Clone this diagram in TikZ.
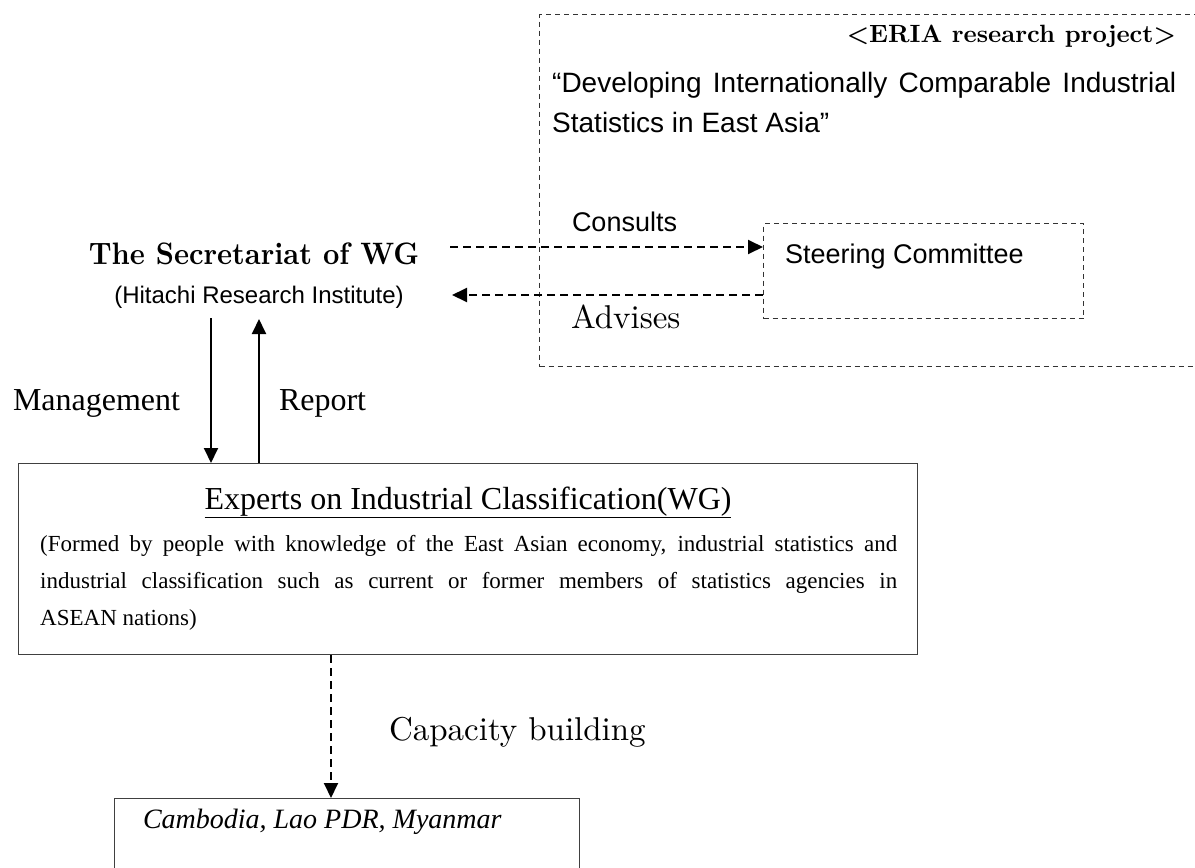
\documentclass[tikz,border=0pt]{standalone}
\usepackage{fontspec}
\newfontfamily\arialf{Liberation Sans}
\newfontfamily\timesf{Liberation Serif}
\newfontfamily\lmten{lmroman10-regular.otf}[BoldFont=lmroman10-bold.otf]
\usetikzlibrary{arrows.meta}
\newcommand\fsz[2]{\fontsize{#1}{#2}\selectfont}
\tikzset{
  txt/.style={inner sep=0pt, outer sep=0pt, anchor=base west},
  boxline/.style={draw=black!75, line width=1.4pt, inner sep=0pt, anchor=north west},
  dashbox/.style={draw=black!80, line width=1.3pt, dash pattern=on 5pt off 4pt, inner sep=0pt, anchor=north west},
  arr/.style={line width=1.9pt, -{Triangle[length=15pt,width=14pt]}},
  darr/.style={arr, dash pattern=on 8pt off 5pt},
}
\begin{document}
\begin{tikzpicture}[x=1pt,y=-1pt]
\useasboundingbox (0,0) rectangle (1195,868);
% ERIA frame (right edge beyond the page)
\node[dashbox, minimum width=680pt, minimum height=352pt] (eria) at (539,14) {};
\node[txt, anchor=base east, font=\lmten\fsz{25}{30}\bfseries] (eriat) at (1176,42) {<ERIA research project>};
\node[inner sep=0pt, anchor=north west, text width=624pt, align=justify,
      font=\arialf\fsz{28}{40}] (dev) at (552,72)
  {“Developing Internationally Comparable Industrial\linebreak Statistics in East Asia”};
% Steering committee
\node[dashbox, minimum width=320pt, minimum height=95pt] (sc) at (763,223) {};
\node[txt, font=\arialf\fsz{27}{30}] (sct) at (785,263) {Steering Committee};
% Secretariat
\node[txt, anchor=base, font=\lmten\fsz{31}{34}\bfseries] (sec) at (254,264) {\scalebox{0.92}[1]{The Secretariat of WG}};
\node[txt, anchor=base, font=\arialf\fsz{24}{28}] (hri) at (259,303) {(Hitachi Research Institute)};
% Consults / Advises
\coordinate (c1) at (450,247);
\coordinate (a1) at (452,295);
\draw[darr] (c1) -- (c1 -| sc.west);
\draw[darr] (a1 -| sc.west) -- (a1);
\node[txt, font=\arialf\fsz{27}{30}] (cons) at (572,231) {Consults};
\node[txt, font=\lmten\fsz{33}{36}] (adv) at (571,328) {Advises};
% Experts box
\node[boxline, minimum width=899pt, minimum height=191pt] (exp) at (18,463) {};
\node[txt, anchor=base, font=\timesf\fsz{32}{36}] (expt) at (468,509) {\underline{Experts on Industrial Classification(WG)}};
\node[inner sep=0pt, anchor=north west, text width=857pt, align=justify,
      font=\timesf\fsz{23}{37}] (body) at (40,535)
  {(Formed by people with knowledge of the East Asian economy, industrial statistics and\linebreak industrial classification such as current or former members of statistics agencies in\linebreak ASEAN nations)};
% Management / Report
\coordinate (m1) at (211,318);
\coordinate (r1) at (259,319);
\draw[arr] (m1) -- (m1 |- exp.north);
\draw[arr] (r1 |- exp.north) -- (r1);
\node[txt, font=\timesf\fsz{32}{36}] (mgmt) at (13,410) {Management};
\node[txt, font=\timesf\fsz{32}{36}] (rep) at (279,410) {Report};
% Capacity building
\node[boxline, minimum width=465pt, minimum height=100pt] (cam) at (114,798) {};
\node[txt, font=\timesf\itshape\fsz{28}{32}] (camt) at (143,828) {Cambodia, Lao PDR, Myanmar};
\coordinate (k1) at (331,700);
\draw[darr] (exp.south -| k1) -- (cam.north -| k1);
\node[txt, font=\lmten\fsz{33}{36}] (cap) at (389,740) {Capacity building};
\end{tikzpicture}
\end{document}
